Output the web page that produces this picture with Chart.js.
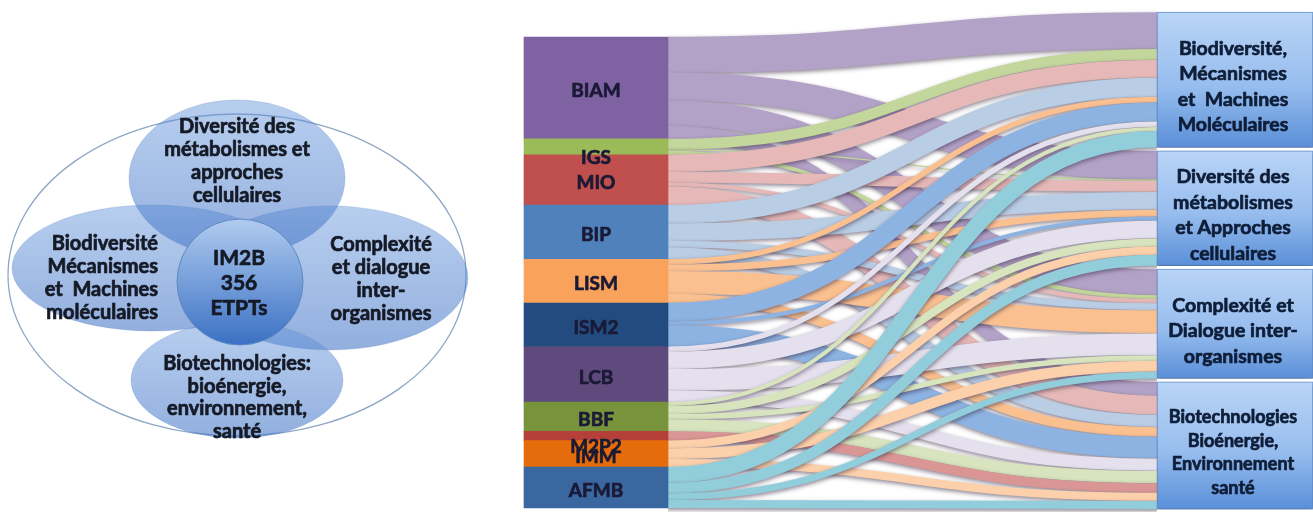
<!DOCTYPE html>
<html><head><meta charset="utf-8">
<script src="https://cdn.jsdelivr.net/npm/chart.js@4.4.1/dist/chart.umd.min.js"></script>
<style>
html,body{margin:0;padding:0;background:#fff;width:1313px;height:512px;overflow:hidden}
#venn{position:absolute;left:0;top:0}
#sankey{position:absolute;left:490px;top:0}
</style></head><body>
<canvas id="venn" width="490" height="512"></canvas>
<canvas id="sankey" width="823" height="512"></canvas>
<script>
// ---------- DATA ----------
const sources = ['BIAM','IGS','MIO','BIP','LISM','ISM2','LCB','BBF','M2P2','IMM','AFMB'];
const targetLabels = [
  ['Biodiversité,','Mécanismes','et  Machines','Moléculaires'],
  ['Diversité des','métabolismes','et Approches','cellulaires'],
  ['Complexité et','Dialogue inter-','organismes'],
  ['Biotechnologies','Bioénergie,','Environnement','santé']
];
// ETPT flowing from each unit (in the order of `sources`) to each axis
const toBiodiversite = [27, 8, 13, 14,  4, 14,  4, 3, 0, 0, 12];
const toDiversite    = [21, 1,  8, 13,  5,  3, 13, 6, 0, 6,  8];
const toComplexite   = [19, 3,  3,  5, 17,  0, 16, 4, 0, 8,  5];
const toBiotech      = [10, 0, 14,  9,  7, 16,  9, 9, 7, 6,  6];
const vennCenter = ['IM2B','356','ETPTs'];
const vennTop    = ['Diversité des','métabolismes et','approches','cellulaires'];
const vennLeft   = ['Biodiversité','Mécanismes','et  Machines','moléculaires'];
const vennRight  = ['Complexité','et dialogue','inter-','organismes'];
const vennBottom = ['Biotechnologies:','bioénergie,','environnement,','santé'];

// ---------- STYLE ----------
const nodeColors   = ['#7f62a1','#9bbb59','#c0504d','#4f81bd','#f8a25c','#224c80','#5f4a7d','#77933c','#b5403a','#e46c0a','#3b67a0'];
const ribbonColors = ['#b3a2c7','#c3d69b','#e6b9b8','#b9cde5','#fac090','#8db3e2','#e5e0ed','#d7e4bd','#d99694','#fcd0aa','#92cddc'];
const FONT = 'Lato, "Open Sans", sans-serif';

const flows = [toBiodiversite, toDiversite, toComplexite, toBiotech];
const srcVal = sources.map((_, i) => flows.reduce((s, f) => s + f[i], 0));
const tgtVal = flows.map(f => f.reduce((a, b) => a + b, 0));
const GAP = 2.5;
let cum = 0;
const srcRange = srcVal.map(v => { const r = [cum, cum + v]; cum += v; return r; });
cum = 0;
const tgtRange = tgtVal.map(v => { const r = [cum, cum + v]; cum += v + GAP; return r; });

function boldText(ctx, s, x, y) {
  ctx.fillText(s, x, y);
  ctx.strokeText(s, x, y);
}

// ---------- SANKEY ----------
const ribbonPlugin = {
  id: 'ribbons',
  beforeDatasetsDraw(chart) {
    const ctx = chart.ctx, ys = chart.scales.y, y2 = chart.scales.y2;
    const m0 = chart.getDatasetMeta(0).data, m1 = chart.getDatasetMeta(1).data;
    const x0 = m0[0].x + m0[0].width / 2;
    const x1 = m1[0].x - m1[0].width / 2;
    const tCursor = tgtRange.map(r => r[0]);
    const ribbons = [];
    sources.forEach((s, i) => {
      let sc = srcRange[i][0];
      flows.forEach((f, j) => {
        const v = f[i]; if (!v) return;
        ribbons.push({ i, a0: sc, a1: sc + v, b0: tCursor[j], b1: tCursor[j] + v });
        sc += v; tCursor[j] += v;
      });
    });
    ctx.save();
    ctx.beginPath(); ctx.rect(x0, 0, x1 - x0, chart.height); ctx.clip();
    const xm = (x0 + x1) / 2;
    ribbons.forEach(r => {
      const ya0 = ys.getPixelForValue(r.a0), ya1 = ys.getPixelForValue(r.a1);
      const yb0 = y2.getPixelForValue(r.b0), yb1 = y2.getPixelForValue(r.b1);
      const ya = (ya0 + ya1) / 2, yb = (yb0 + yb1) / 2;
      const w = ((ya1 - ya0) + (yb1 - yb0)) / 2;
      ctx.beginPath();
      ctx.moveTo(x0 - 2, ya);
      ctx.lineTo(x0, ya);
      ctx.bezierCurveTo(xm, ya, xm, yb, x1, yb);
      ctx.lineTo(x1 + 2, yb);
      ctx.lineWidth = w;
      ctx.lineCap = 'butt';
      ctx.shadowColor = 'rgba(50,35,60,0.55)';
      ctx.shadowBlur = 4; ctx.shadowOffsetY = 2; ctx.shadowOffsetX = 0;
      ctx.strokeStyle = ribbonColors[r.i];
      ctx.stroke();
    });
    ctx.restore();
  },
  beforeDatasetDraw(chart, args) {
    if (args.index === 1) {
      const ctx = chart.ctx;
      ctx.save();
      ctx.shadowColor = 'rgba(30,40,70,0.45)'; ctx.shadowBlur = 4; ctx.shadowOffsetY = 2;
    }
  },
  afterDatasetDraw(chart, args) {
    if (args.index === 1) chart.ctx.restore();
  },
  afterDatasetsDraw(chart) {
    const ctx = chart.ctx, ys = chart.scales.y, y2 = chart.scales.y2;
    const m0 = chart.getDatasetMeta(0).data, m1 = chart.getDatasetMeta(1).data;
    ctx.save();
    ctx.textAlign = 'center'; ctx.textBaseline = 'middle';
    ctx.font = 'bold 19px ' + FONT;
    ctx.fillStyle = '#1b1a36'; ctx.strokeStyle = '#1b1a36'; ctx.lineWidth = 0.7;
    sources.forEach((s, i) => {
      const t = ys.getPixelForValue(srcRange[i][0]), b = ys.getPixelForValue(srcRange[i][1]);
      const nudge = (b - t) < 20 ? 11 : 3;
      boldText(ctx, s, m0[i].x, (t + b) / 2 + nudge);
    });
    ctx.fillStyle = '#0f1e38'; ctx.strokeStyle = '#0f1e38';
    targetLabels.forEach((lines, j) => {
      const t = y2.getPixelForValue(tgtRange[j][0]), b = y2.getPixelForValue(tgtRange[j][1]);
      const small = j === 3;
      ctx.font = 'bold ' + (small ? 18 : 19.5) + 'px ' + FONT;
      const lh = small ? 23.5 : 25.5;
      const cy = (t + b) / 2 + 7;
      lines.forEach((ln, k) => boldText(ctx, ln, m1[j].x - 2, cy + (k - (lines.length - 1) / 2) * lh));
    });
    ctx.restore();
  }
};

function boxGradient(c) {
  const chart = c.chart, y2 = chart.scales && chart.scales.y2;
  if (!y2 || !c.raw || !Array.isArray(c.raw.y)) return '#97bdee';
  const top = y2.getPixelForValue(c.raw.y[0]), bot = y2.getPixelForValue(c.raw.y[1]);
  if (!isFinite(top) || !isFinite(bot) || top === bot) return '#97bdee';
  const g = chart.ctx.createLinearGradient(0, top, 0, bot);
  g.addColorStop(0, '#b9d4f6');
  g.addColorStop(0.55, '#97bdee');
  g.addColorStop(1, '#5a8fd8');
  return g;
}

try {
new Chart(document.getElementById('sankey'), {
  type: 'bar',
  data: {
    datasets: [
      { label: 'Unités', data: srcRange.map(r => ({ x: 0, y: r })), backgroundColor: nodeColors,
        borderWidth: 0, barThickness: 144, grouped: false, yAxisID: 'y' },
      { label: 'Axes', data: tgtRange.map(r => ({ x: 1, y: r })), backgroundColor: boxGradient,
        borderColor: '#6e9bd8', borderWidth: 1, borderSkipped: false, barThickness: 156, grouped: false, yAxisID: 'y2' }
    ]
  },
  options: {
    responsive: false, animation: false,
    layout: { padding: 0 },
    plugins: { legend: { display: false }, tooltip: { enabled: false }, title: { display: false } },
    scales: {
      x: { type: 'linear', min: -0.1659, max: 1.1221, offset: false, display: false },
      y: { type: 'linear', min: -28, max: 359, reverse: true, display: false },
      y2: { type: 'linear', min: -8.77, max: 365.6, reverse: true, display: false }
    }
  },
  plugins: [ribbonPlugin]
});
} catch (e) { console.error(e); }

// ---------- VENN ----------
const vennPlugin = {
  id: 'venn',
  beforeDatasetsDraw(chart) {
    const ctx = chart.ctx, sx = chart.scales.x, sy = chart.scales.y;
    const P = (x, y) => [sx.getPixelForValue(x), sy.getPixelForValue(y)];
    const ellipse = (cx, cy, rx, ry) => {
      const [px, py] = P(cx, cy);
      const prx = Math.abs(sx.getPixelForValue(cx + rx) - px);
      const pry = Math.abs(sy.getPixelForValue(cy + ry) - py);
      ctx.beginPath(); ctx.ellipse(px, py, prx, pry, 0, 0, Math.PI * 2);
      return [py - pry, py + pry];
    };
    ctx.save();
    ellipse(237, 275, 229, 161);
    ctx.strokeStyle = '#8ea6c6'; ctx.lineWidth = 1.3; ctx.stroke();
    const lobes = [[152, 268, 140, 63], [330, 278, 138, 72], [237, 178, 108, 78], [237, 380, 106, 58]];
    lobes.forEach(e => {
      const [t, b] = ellipse(...e);
      const g = ctx.createLinearGradient(0, t, 0, b);
      g.addColorStop(0, 'rgba(105,152,220,0.48)');
      g.addColorStop(1, 'rgba(66,116,198,0.58)');
      ctx.fillStyle = g; ctx.fill();
      ctx.strokeStyle = 'rgba(90,130,195,0.25)'; ctx.lineWidth = 1; ctx.stroke();
    });
    const [t, b] = ellipse(240, 282, 63, 63);
    const g = ctx.createLinearGradient(0, t, 0, b);
    g.addColorStop(0, '#b0cbef'); g.addColorStop(1, '#3b71c4');
    ctx.fillStyle = g; ctx.fill();
    ctx.strokeStyle = '#5f86c0'; ctx.lineWidth = 1; ctx.stroke();
    ctx.fillStyle = '#151a26'; ctx.strokeStyle = '#151a26'; ctx.lineWidth = 0.7;
    ctx.textBaseline = 'middle';
    ctx.font = 'bold 20px ' + FONT;
    const block = (lines, x, y0, lh, align) => {
      ctx.textAlign = align;
      lines.forEach((l, k) => { const [px, py] = P(x, y0 + k * lh); boldText(ctx, l, px, py); });
    };
    block(vennTop, 237, 127, 23, 'center');
    block(vennLeft, 158, 244, 23, 'right');
    block(vennRight, 381, 245, 23, 'center');
    block(vennBottom, 237, 364, 22.5, 'center');
    ctx.font = 'bold 21px ' + FONT;
    block(vennCenter, 239, 258, 25, 'center');
    ctx.restore();
  }
};

new Chart(document.getElementById('venn'), {
  type: 'scatter',
  data: { datasets: [{ data: [{ x: 240, y: 282 }], pointRadius: 0 }] },
  options: {
    responsive: false, animation: false,
    layout: { padding: 0 },
    plugins: { legend: { display: false }, tooltip: { enabled: false } },
    scales: {
      x: { type: 'linear', min: 0, max: 490, display: false },
      y: { type: 'linear', min: 0, max: 512, reverse: true, display: false }
    }
  },
  plugins: [vennPlugin]
});
</script>
</body></html>
